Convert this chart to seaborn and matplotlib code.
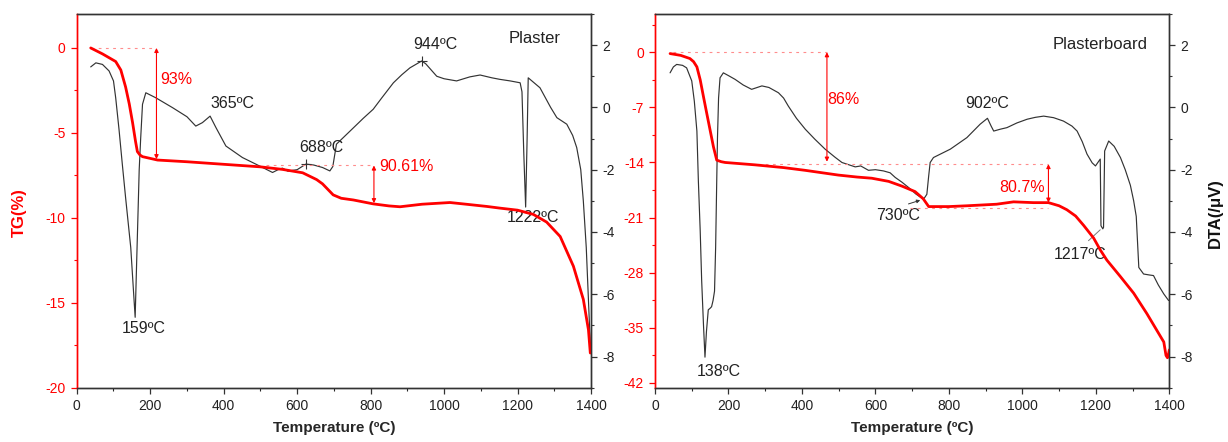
import numpy as np
import pandas as pd
import matplotlib
matplotlib.use("Agg")
import matplotlib.pyplot as plt
from matplotlib.ticker import MultipleLocator
import seaborn as sns

# ---- Plaster: thermogravimetry (TG, %) and differential thermal analysis (DTA, µV)
plaster_tg_T = [38, 70, 106, 120, 133, 143, 152, 160, 165, 172, 179, 220, 300, 400, 500, 560,
                615, 653, 669, 698, 720, 753, 807, 850, 880, 940, 1016, 1060, 1116, 1152, 1200,
                1243, 1279, 1316, 1352, 1379, 1393, 1398]
plaster_tg = [0.0, -0.35, -0.8, -1.3, -2.3, -3.3, -4.4, -5.5, -6.1, -6.3, -6.4, -6.6, -6.7, -6.85,
              -7.0, -7.15, -7.35, -7.75, -8.0, -8.65, -8.85, -8.95, -9.18, -9.3, -9.35, -9.2, -9.1,
              -9.2, -9.33, -9.43, -9.55, -9.8, -10.25, -11.1, -12.85, -14.8, -16.6, -17.96]

plaster_dta_T = [38, 52, 70, 88, 100, 106, 115, 124, 133, 147, 155, 159, 163, 167, 170, 174, 179,
                 188, 215, 261, 300, 324, 342, 363, 379, 406, 451, 506, 533, 548, 560, 575, 588,
                 600, 624, 645, 669, 689, 697, 707, 744, 780, 807, 830, 862, 885, 907, 939, 950,
                 980, 1000, 1034, 1070, 1098, 1130, 1152, 1180, 1207, 1212, 1217, 1222, 1226,
                 1229, 1261, 1290, 1307, 1334, 1350, 1361, 1372, 1379, 1387, 1393, 1399]
plaster_dta = [1.30, 1.43, 1.38, 1.17, 0.85, 0.31, -0.7, -1.82, -2.9, -4.5, -6.0, -6.74, -5.0,
               -3.3, -2.0, -1.0, 0.1, 0.47, 0.31, -0.01, -0.3, -0.6, -0.49, -0.28, -0.65, -1.24,
               -1.61, -1.93, -2.09, -2.0, -1.95, -2.05, -2.02, -2.0, -1.82, -1.85, -1.93, -2.04,
               -1.9, -1.18, -0.76, -0.35, -0.06, 0.3, 0.79, 1.05, 1.27, 1.49, 1.4, 1.0, 0.92,
               0.85, 0.98, 1.04, 0.95, 0.9, 0.85, 0.79, 0.5, -1.5, -3.2, -1.0, 0.95, 0.63, 0.0,
               -0.33, -0.54, -0.9, -1.29, -2.0, -3.0, -4.5, -6.2, -7.9]

# ---- Plasterboard
board_tg_T = [41, 70, 95, 105, 114, 123, 132, 141, 150, 159, 168, 180, 191, 272, 350, 409, 499,
              550, 590, 636, 672, 708, 730, 745, 800, 849, 930, 976, 1030, 1071, 1100, 1121,
              1145, 1167, 1194, 1212, 1230, 1267, 1303, 1339, 1385, 1391, 1395, 1398, 1400]
board_tg = [-0.17, -0.4, -0.8, -1.2, -1.86, -3.5, -5.67, -7.8, -9.9, -12.0, -13.7, -13.9, -14.0,
            -14.3, -14.65, -15.0, -15.6, -15.85, -16.0, -16.4, -17.0, -17.7, -18.6, -19.6, -19.6,
            -19.5, -19.3, -19.0, -19.1, -19.1, -19.5, -20.0, -20.8, -22.0, -23.6, -25.1, -26.4,
            -28.5, -30.6, -33.2, -36.8, -38.5, -38.8, -38.3, -37.8]

board_dta_T = [41, 50, 59, 75, 86, 100, 107, 114, 118, 123, 127, 132, 136, 140, 145, 150, 154,
               158, 162, 165, 168, 170, 173, 177, 186, 200, 218, 240, 263, 291, 310, 336, 350,
               363, 385, 409, 435, 463, 490, 509, 545, 560, 581, 600, 622, 640, 654, 672, 690,
               710, 731, 740, 745, 749, 758, 804, 849, 885, 905, 915, 922, 940, 958, 985, 1013,
               1035, 1058, 1085, 1112, 1135, 1149, 1163, 1176, 1190, 1199, 1212, 1214, 1219,
               1221, 1224, 1235, 1250, 1267, 1280, 1294, 1303, 1310, 1317, 1330, 1345, 1357,
               1370, 1385, 1398]
board_dta = [1.11, 1.30, 1.38, 1.35, 1.27, 0.85, 0.2, -0.76, -2.36, -3.96, -5.56, -7.0, -8.02,
             -7.2, -6.5, -6.45, -6.4, -6.2, -5.9, -4.5, -2.36, -1.0, 0.3, 0.95, 1.11, 1.02, 0.9,
             0.72, 0.58, 0.69, 0.64, 0.47, 0.3, 0.04, -0.35, -0.7, -1.02, -1.34, -1.6, -1.77,
             -1.91, -1.88, -2.02, -2.0, -2.04, -2.1, -2.25, -2.4, -2.57, -2.78, -2.95, -2.79,
             -2.2, -1.77, -1.61, -1.34, -0.97, -0.54, -0.35, -0.6, -0.76, -0.7, -0.65, -0.5,
             -0.38, -0.32, -0.28, -0.33, -0.44, -0.6, -0.76, -1.1, -1.5, -1.78, -1.88, -1.66,
             -3.8, -3.9, -3.85, -1.4, -1.08, -1.25, -1.61, -2.0, -2.5, -3.0, -3.5, -5.14, -5.35,
             -5.38, -5.4, -5.7, -5.99, -6.2]

# ---- Peak labels (text, T, DTA level)
plaster_peaks = [("159ºC", 183, -7.11), ("365ºC", 424, 0.11), ("688ºC", 666, -1.29),
                 ("944ºC", 975, 2.03), ("1222ºC", 1243, -3.53)]
board_peaks = [("138ºC", 174, -8.48), ("730ºC", 663, -3.48), ("902ºC", 903, 0.13),
               ("1217ºC", 1156, -4.71)]

# ---- Mass-loss steps: (label, arrow T, TG from, TG to, text T, text TG)
plaster_steps = [("93%", 217, 0.0, -6.55, 272, -1.83),
                 ("90.61%", 809, -6.92, -9.14, 897, -6.98)]
board_steps = [("86%", 468, 0.0, -13.9, 513, -6.05),
               ("80.7%", 1071, -14.2, -19.1, 998, -17.13)]
# reference levels: (TG, T start, T end)
plaster_levels = [(0.0, 38, 217), (-6.92, 515, 809)]
board_levels = [(0.0, 50, 468), (-14.2, 280, 1071), (-19.72, 695, 1071)]

sns.set_style("ticks")
plt.rcParams["font.family"] = ["Liberation Sans", "DejaVu Sans"]
plt.rcParams["axes.unicode_minus"] = False

fig = plt.figure(figsize=(12.28, 4.42), dpi=100)
ax_l = fig.add_axes([0.0625, 0.1229, 0.4188, 0.8455])
ax_r = fig.add_axes([0.5334, 0.1229, 0.4188, 0.8455])

RED = "#ff0000"
PINK = "#ff8c8c"
DARK = "#333333"


def build_panel(ax, tg_T, tg, dta_T, dta, tg_lim, tg_major, tg_minor, peaks, steps, levels,
                title, title_xy):
    ax2 = ax.twinx()
    df_tg = pd.DataFrame({"T": tg_T, "TG": tg})
    df_dta = pd.DataFrame({"T": dta_T, "DTA": dta})
    sns.lineplot(data=df_dta, x="T", y="DTA", ax=ax2, color=DARK, lw=0.85,
                 estimator=None, sort=False)
    sns.lineplot(data=df_tg, x="T", y="TG", ax=ax, color=RED, lw=2.0,
                 estimator=None, sort=False)
    ax.set_zorder(ax2.get_zorder() + 1)
    ax.patch.set_visible(False)

    ax.set_xlim(0, 1400)
    ax.set_ylim(*tg_lim)
    ax2.set_ylim(-9, 3)
    ax.xaxis.set_major_locator(MultipleLocator(200))
    ax.xaxis.set_minor_locator(MultipleLocator(100))
    ax.yaxis.set_major_locator(MultipleLocator(tg_major))
    ax.yaxis.set_minor_locator(MultipleLocator(tg_minor))
    ax2.yaxis.set_major_locator(MultipleLocator(2))
    ax2.yaxis.set_minor_locator(MultipleLocator(1))

    for a in (ax, ax2):
        a.tick_params(which="major", direction="out", length=4.5, width=0.9, labelsize=10)
        a.tick_params(which="minor", direction="out", length=2.5, width=0.8)
        for s in a.spines.values():
            s.set_linewidth(1.0)
            s.set_color("#333333")
    ax.spines["left"].set_color(RED)
    ax2.spines["left"].set_color(RED)
    ax.tick_params(axis="y", which="both", colors=RED, labelcolor=RED)
    ax.tick_params(axis="x", colors="#333333", labelcolor="#222222")
    ax2.tick_params(axis="y", which="both", colors="#333333", labelcolor="#222222")

    ax.set_xlabel("Temperature (ºC)", fontsize=11, fontweight="bold", labelpad=6)
    ax.set_ylabel("")
    ax2.set_ylabel("")

    for lvl, t0, t1 in levels:
        ax.plot([t0, t1], [lvl, lvl], color=PINK, lw=0.8, ls=(0, (2.5, 4)), zorder=1)
    for label, t, y0, y1, tx, ty in steps:
        ax.annotate("", xy=(t, y0), xytext=(t, y1),
                    arrowprops=dict(arrowstyle="<|-|>", color=RED, lw=0.8,
                                    mutation_scale=6, shrinkA=0, shrinkB=0))
        ax.text(tx, ty, label, color=RED, fontsize=11.5, ha="center", va="center")
    for label, t, d in peaks:
        ax2.text(t, d, label, color="#222222", fontsize=11.5, ha="center", va="center")
    ax2.text(title_xy[0], title_xy[1], title, color="#222222", fontsize=12,
             ha="center", va="center")
    return ax2


ax2_l = build_panel(ax_l, plaster_tg_T, plaster_tg, plaster_dta_T, plaster_dta,
                    (-20, 2), 5, 2.5, plaster_peaks, plaster_steps, plaster_levels,
                    "Plaster", (1247, 2.21))
ax2_r = build_panel(ax_r, board_tg_T, board_tg, board_dta_T, board_dta,
                    (-42.6, 4.86), 7, 3.5, board_peaks, board_steps, board_levels,
                    "Plasterboard", (1213, 2.03))

# peak markers on the plaster DTA trace
ax2_l.plot([624, 939], [-1.82, 1.49], ls="none", marker="+", ms=7, mew=0.8, color=DARK)
# leader lines on the plasterboard DTA trace
ax2_r.annotate("", xy=(722, -2.98), xytext=(690, -3.1),
               arrowprops=dict(arrowstyle="-|>", color=DARK, lw=0.7, mutation_scale=5,
                               shrinkA=0, shrinkB=0))
ax2_r.plot([1180, 1212], [-4.28, -3.93], color="#777777", lw=0.7)

fig.text(0.0155, 0.52, "TG(%)", color=RED, fontsize=12, fontweight="bold",
         rotation=90, ha="center", va="center")
fig.text(0.9895, 0.518, "DTA(/μV)", color="#111111", fontsize=12, fontweight="bold",
         rotation=90, ha="center", va="center")

fig.savefig("out.png", dpi=100)
